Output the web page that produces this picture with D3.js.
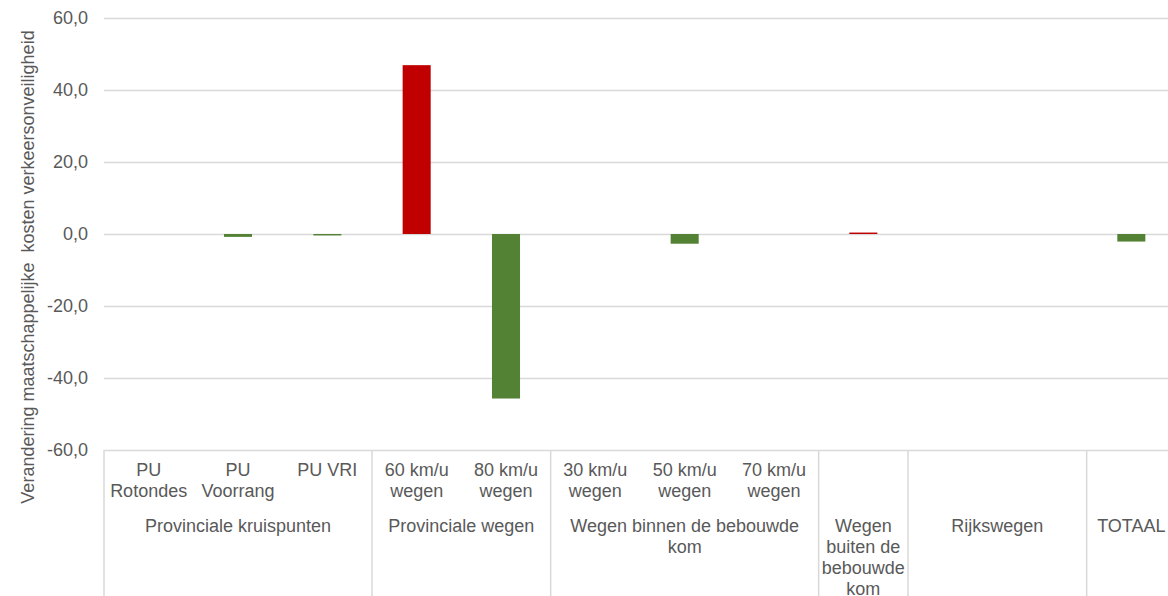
<!DOCTYPE html>
<html>
<head>
<meta charset="utf-8">
<script src="https://cdn.jsdelivr.net/npm/d3@7"></script>
<style>
  body { margin: 0; background: #fff; }
  svg text { font-family: "Liberation Sans", Arial, sans-serif; fill: #595959; }
</style>
</head>
<body>
<div id="chart"></div>
<script>
/***** data *****/
// level 1 labels, one entry per category slot (lines)
var subLabels = [
  ["PU", "Rotondes"], ["PU", "Voorrang"], ["PU VRI"],
  ["60 km/u", "wegen"], ["80 km/u", "wegen"],
  ["30 km/u", "wegen"], ["50 km/u", "wegen"], ["70 km/u", "wegen"],
  [""],
  [""], [""],
  [""]
];
var values = [0, -0.8, -0.4, 46.9, -45.7, 0, -2.7, 0, 0.4, 0, 0, -2.1];

// level 2 groups and how many slots each spans
var groupNames = [
  ["Provinciale kruispunten"],
  ["Provinciale wegen"],
  ["Wegen binnen de bebouwde", "kom"],
  ["Wegen", "buiten de", "bebouwde", "kom"],
  ["Rijkswegen"],
  ["TOTAAL"]
];
var groupSizes = [3, 2, 3, 1, 2, 1];

var yTicks = [-60, -40, -20, 0, 20, 40, 60];
var yTitle = "Verandering maatschappelijke\u00a0 kosten verkeersonveiligheid";

/***** chart parameters *****/
var W = 1168, H = 596;
var margin = {top: 18, left: 104};
var plotRight = 1176;
var plotBottom = 450;
var colorPos = "#C00000", colorNeg = "#548235";
var gridColor = "#d9d9d9";

var svg = d3.select("#chart").append("svg")
  .attr("width", W)
  .attr("height", H);

//scales
var x = d3.scaleBand()
  .domain(d3.range(values.length))
  .range([margin.left, plotRight])
  .padding(0);

var y = d3.scaleLinear()
  .domain([-60, 60])
  .range([plotBottom, margin.top]);

var barW = x.bandwidth() * 0.314;

//y axis with gridlines
var yAxis = d3.axisLeft(y)
  .tickValues(yTicks)
  .tickFormat(function(d){ return d3.format(".1f")(d).replace(".", ",").replace("−", "-"); })
  .tickSizeInner(-(plotRight - margin.left))
  .tickSizeOuter(0)
  .tickPadding(16);

var gy = svg.append("g")
  .attr("transform", "translate(" + margin.left + ",0)")
  .call(yAxis);
gy.select(".domain").remove();
gy.selectAll(".tick line").attr("stroke", gridColor).attr("stroke-width", 1.5);
gy.selectAll(".tick text").style("font-size", "18px").attr("fill", "#595959");

//bars
svg.append("g").selectAll("rect")
  .data(values)
  .join("rect")
  .attr("x", function(d, i){ return x(i) + (x.bandwidth() - barW) / 2; })
  .attr("y", function(d){ return y(Math.max(0, d)); })
  .attr("width", barW)
  .attr("height", function(d){ return Math.abs(y(d) - y(0)); })
  .attr("fill", function(d){ return d >= 0 ? colorPos : colorNeg; });

//category axis: group separators
var starts = [];
var acc = 0;
groupSizes.forEach(function(n){ starts.push(acc); acc += n; });

var sepX = starts.map(function(s){ return x(s); }).concat([plotRight]);
svg.append("g").selectAll("line")
  .data(sepX)
  .join("line")
  .attr("x1", function(d){ return d; })
  .attr("x2", function(d){ return d; })
  .attr("y1", plotBottom)
  .attr("y2", H)
  .attr("stroke", gridColor)
  .attr("stroke-width", 1.5);

var lineH = 21;

//level 1 labels
svg.append("g").selectAll("text")
  .data(subLabels)
  .join("text")
  .attr("x", function(d, i){ return x(i) + x.bandwidth() / 2; })
  .attr("y", 476)
  .attr("text-anchor", "middle")
  .style("font-size", "18px")
  .selectAll("tspan")
  .data(function(d){ return d; })
  .join("tspan")
  .attr("x", function(){ return d3.select(this.parentNode).attr("x"); })
  .attr("dy", function(d, j){ return j === 0 ? 0 : lineH; })
  .text(function(d){ return d; });

//level 2 labels
svg.append("g").selectAll("text")
  .data(groupNames)
  .join("text")
  .attr("x", function(d, i){ return (x(starts[i]) + x(starts[i]) + groupSizes[i] * x.bandwidth()) / 2; })
  .attr("y", 532)
  .attr("text-anchor", "middle")
  .style("font-size", "18px")
  .selectAll("tspan")
  .data(function(d){ return d; })
  .join("tspan")
  .attr("x", function(){ return d3.select(this.parentNode).attr("x"); })
  .attr("dy", function(d, j){ return j === 0 ? 0 : lineH; })
  .text(function(d){ return d; });

//y axis title
svg.append("text")
  .attr("transform", "translate(34," + 267 + ") rotate(-90)")
  .attr("text-anchor", "middle")
  .style("font-size", "18px")
  .text(yTitle);
</script>
</body>
</html>
